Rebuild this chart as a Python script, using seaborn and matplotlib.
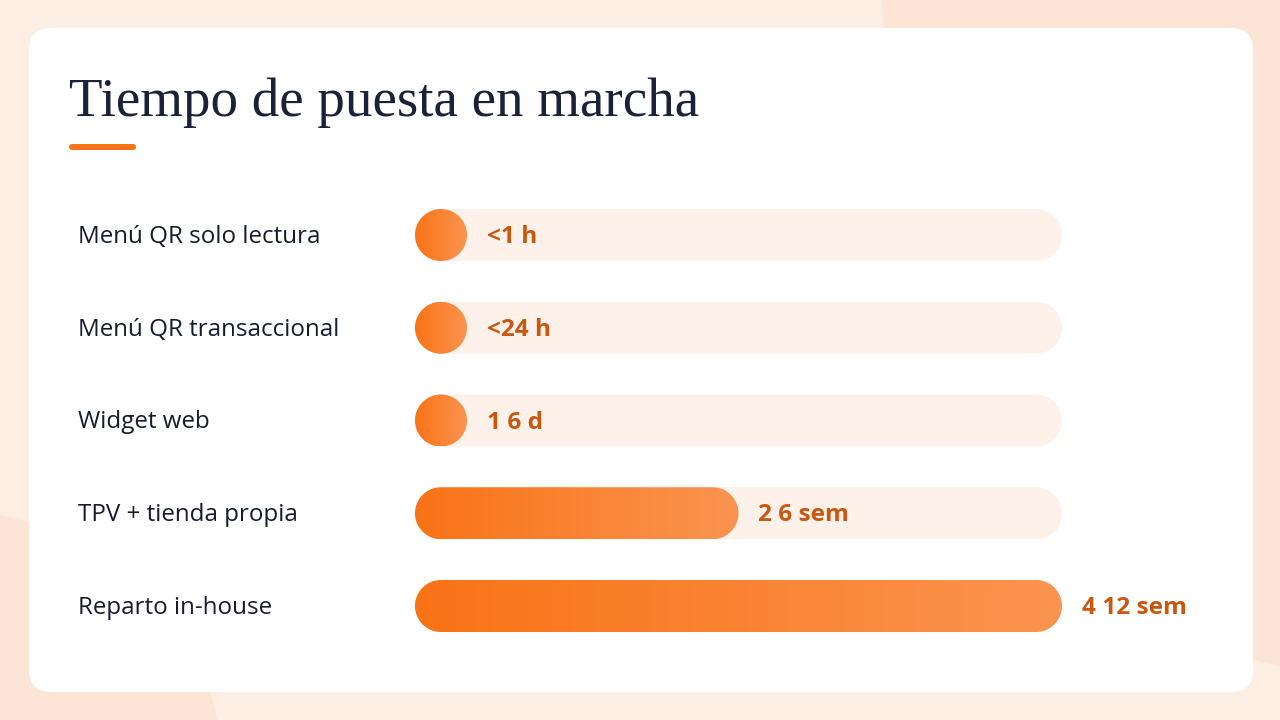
import numpy as np
import matplotlib
matplotlib.use("Agg")
import matplotlib.pyplot as plt
import matplotlib.transforms as mtransforms
from matplotlib.patches import FancyBboxPatch, Ellipse, Polygon
from matplotlib.colors import LinearSegmentedColormap
import seaborn as sns

# ---- data ----
categories = ["Menú QR solo lectura", "Menú QR transaccional", "Widget web",
              "TPV + tienda propia", "Reparto in-house"]
# upper bound of set-up time, in weeks
values = [1 / 168, 1 / 7, 6 / 7, 6, 12]
value_labels = ["<1 h", "<24 h", "1 6 d", "2 6 sem", "4 12 sem"]
max_value = 12
title = "Tiempo de puesta en marcha"

# ---- style ----
sns.set_theme(style="white")
plt.rcParams["font.family"] = ["Open Sans", "DejaVu Sans"]

ORANGE = "#f97316"
ORANGE_LIGHT = "#fb9450"
TRACK = "#fef1ea"
LABEL_DARK = "#161c2c"
VALUE_COLOR = "#c8580f"
BG = "#fdeee4"
BG_DARK = "#fce5d6"

W, H = 1280, 720
fig = plt.figure(figsize=(12.8, 7.2), dpi=100, facecolor=BG)

# background + card
bg = fig.add_axes([0, 0, 1, 1])
bg.set_xlim(0, W)
bg.set_ylim(H, 0)
bg.axis("off")
bg.add_patch(plt.Rectangle((0, 0), W, H, color=BG, zorder=0))
bg.add_patch(Ellipse((-60, 760), 560, 500, color=BG_DARK, zorder=0.5))
bg.add_patch(Ellipse((1330, -80), 900, 1500, color=BG_DARK, zorder=0.5))
bg.add_patch(FancyBboxPatch((29, 28), 1224, 664,
                            boxstyle="round,pad=0,rounding_size=22",
                            fc="white", ec="none", zorder=1))
bg.text(69, 116, title, fontsize=39.6, color="#1a2238",
        family=["Liberation Serif", "DejaVu Serif"], va="baseline", zorder=2)
bg.add_patch(FancyBboxPatch((69, 144), 67, 6,
                            boxstyle="round,pad=0,rounding_size=3",
                            fc=ORANGE, ec="none", zorder=2))

# bar axes
x_left, x_right = 415, 1062
y_first, y_last = 235, 606
step = (y_last - y_first) / (len(categories) - 1)
top_px = y_first - step / 2
bot_px = y_last + step / 2
ax = fig.add_axes([x_left / W, 1 - bot_px / H, (x_right - x_left) / W, (bot_px - top_px) / H])
ax.patch.set_alpha(0)

bar_h = 52 / step
sns.barplot(x=[max_value] * len(categories), y=categories, orient="h", ax=ax,
            width=bar_h, color=TRACK, saturation=1)
n_track = len(ax.patches)
sns.barplot(x=values, y=categories, orient="h", ax=ax,
            width=bar_h, color=ORANGE, saturation=1)
ax.set_xlim(0, max_value)
ax.set_ylim(len(categories) - 0.5, -0.5)
ax.axis("off")

# aspect between y-data-per-pixel and x-data-per-pixel
x_per_px = max_value / (x_right - x_left)
y_per_px = 1 / step
asp = y_per_px / x_per_px


def pill(x0, y0, w, h):
    """Stadium shape (true circular ends on screen) in data coordinates."""
    ry = h / 2
    rx = ry / asp
    w = max(w, 2 * rx)
    yc = y0 + ry
    t = np.linspace(-np.pi / 2, np.pi / 2, 60)
    right = np.column_stack([x0 + w - rx + rx * np.cos(t), yc + ry * np.sin(t)])
    left = np.column_stack([x0 + rx - rx * np.cos(t), yc - ry * np.sin(t)])
    return np.vstack([right, left]), w


cmap = LinearSegmentedColormap.from_list("g", [ORANGE, ORANGE_LIGHT])
grad = np.linspace(0, 1, 256).reshape(1, -1)

rects = list(ax.patches)
for i, r in enumerate(rects):
    x0, y0, w, h = r.get_x(), r.get_y(), r.get_width(), r.get_height()
    r.remove()
    pts, w = pill(x0, y0, w, h)
    is_track = i < n_track
    p = Polygon(pts, closed=True, fc=TRACK if is_track else "none", ec="none",
                zorder=1 if is_track else 2)
    ax.add_patch(p)
    if not is_track:
        im = ax.imshow(grad, cmap=cmap, aspect="auto",
                       extent=(x0, x0 + w, y0 + h, y0), zorder=2,
                       interpolation="bilinear")
        im.set_clip_path(p)
        j = i - n_track
        ax.annotate(value_labels[j], xy=(x0 + w, j), xytext=(20 * 0.72, -1.5),
                    textcoords="offset points", va="center", ha="left",
                    fontsize=17.6, fontweight="bold", color=VALUE_COLOR, zorder=3)
ax.set_xlim(0, max_value)
ax.set_ylim(len(categories) - 0.5, -0.5)

label_tr = mtransforms.blended_transform_factory(ax.transAxes, ax.transData)
label_tr = mtransforms.offset_copy(label_tr, fig=fig, x=0, y=-2, units="dots")
label_x = (78 - x_left) / (x_right - x_left)
for j, c in enumerate(categories):
    ax.text(label_x, j, c, transform=label_tr, va="center", ha="left",
            fontsize=17.4, fontweight="medium", color=LABEL_DARK, clip_on=False)

fig.savefig("out.png", dpi=100, facecolor=BG)
